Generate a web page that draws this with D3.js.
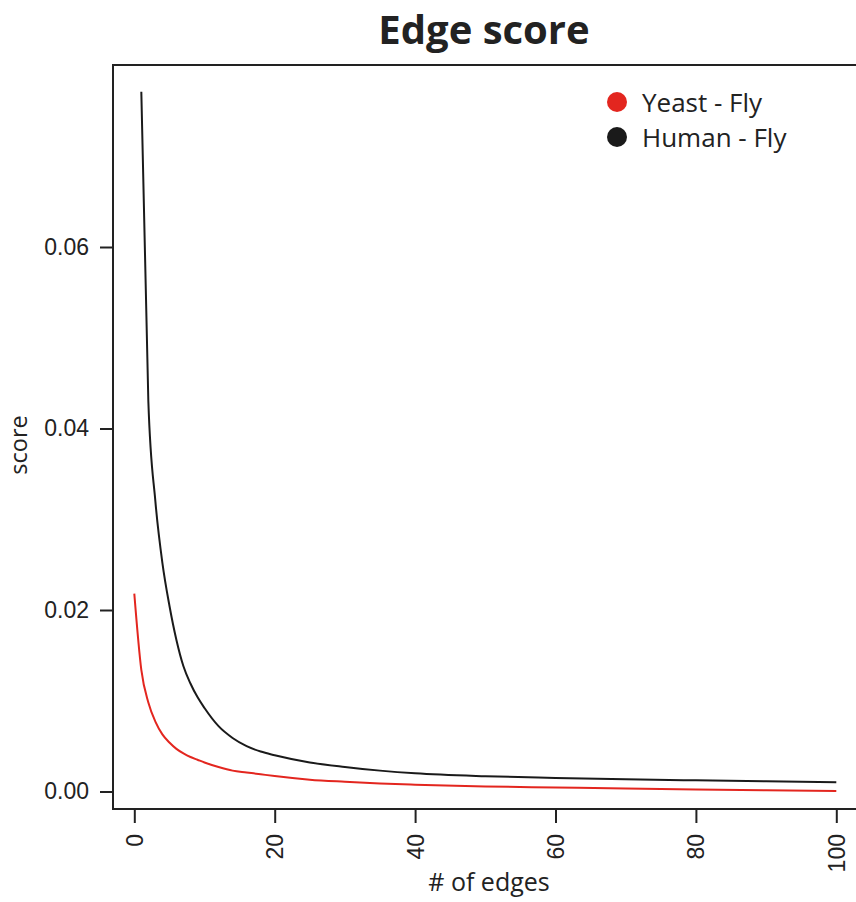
<!DOCTYPE html>
<html>
<head>
<meta charset="utf-8">
<script src="https://cdn.jsdelivr.net/npm/d3@7"></script>
<style>
  body { margin: 0; background: #fff; }
  .axis text { font-family: "Liberation Sans", Arial, sans-serif; font-size: 23px; fill: #222; }
  .axis line { stroke: #222; stroke-width: 2; }
  .label { font-family: "Open Sans", sans-serif; fill: #222; }
</style>
</head>
<body>
<svg id="chart"></svg>
<script>
// number of edges and scores
let edgesHuman = [1, 2, 3, 4, 5, 6, 7, 8, 9, 10, 12, 14, 16, 18, 20, 25, 30, 35, 40, 50, 60, 70, 80, 90, 100];
let scoreHuman = [0.0771, 0.043, 0.032, 0.0252, 0.0205, 0.0167, 0.0138, 0.0119, 0.0104, 0.0092, 0.0072, 0.0059, 0.0050, 0.0044, 0.0040,
  0.0032, 0.0027, 0.0023, 0.0020, 0.00168, 0.00150, 0.00135, 0.00123, 0.00112, 0.00102];

let edgesYeast = [0, 1, 2, 3, 4, 5, 6, 7, 8, 9, 10, 12, 14, 16, 18, 20, 25, 30, 35, 40, 50, 60, 70, 80, 90, 100];
let scoreYeast = [0.0218, 0.0134, 0.0098, 0.0077, 0.0063, 0.0054, 0.0047, 0.0042, 0.0038, 0.0035, 0.0032, 0.0027, 0.0023, 0.0021, 0.0019,
  0.0017, 0.0013, 0.00107, 0.00088, 0.00075, 0.00056, 0.00044, 0.00032, 0.00022, 0.00013, 0.00005];

let xTicks = [0, 20, 40, 60, 80, 100];
let yTicks = [0, 0.02, 0.04, 0.06];
let seriesNames = ['Yeast - Fly', 'Human - Fly'];
let seriesColors = ['#e3261f', '#1a1a1a'];

function makeChart() {
  let w = 856;
  let h = 902;

  let svg = d3.select('#chart')
    .attr('width', w)
    .attr('height', h);

  let xScale = d3.scaleLinear()
    .domain([0, 100])
    .range([134.3, 836.3]);

  let yScale = d3.scaleLinear()
    .domain([0, 0.06])
    .range([791.5, 247]);

  // frame (right side runs off the page in the original)
  svg.append('rect')
    .attr('x', 113)
    .attr('y', 65)
    .attr('width', 760)
    .attr('height', 744)
    .attr('fill', 'none')
    .attr('stroke', '#222')
    .attr('stroke-width', 2);

  let line = d3.line()
    .x((d) => xScale(d[0]))
    .y((d) => yScale(d[1]))
    .curve(d3.curveMonotoneX);

  let yeast = edgesYeast.map((e, i) => [e, scoreYeast[i]]);
  let human = edgesHuman.map((e, i) => [e, scoreHuman[i]]);

  svg.append('path')
    .datum(yeast)
    .attr('d', line)
    .attr('fill', 'none')
    .attr('stroke', seriesColors[0])
    .attr('stroke-width', 2);

  svg.append('path')
    .datum(human)
    .attr('d', line)
    .attr('fill', 'none')
    .attr('stroke', seriesColors[1])
    .attr('stroke-width', 2);

  // AXES
  let xAxis = svg.append('g')
    .attr('class', 'axis')
    .attr('transform', 'translate(0, 809)')
    .call(d3.axisBottom(xScale).tickValues(xTicks).tickSize(14).tickFormat(d3.format('d')));
  xAxis.select('.domain').remove();
  xAxis.selectAll('text')
    .attr('transform', 'rotate(-90)')
    .attr('text-anchor', 'end')
    .attr('x', -25)
    .attr('y', 0)
    .attr('dy', '0.35em');

  let yAxis = svg.append('g')
    .attr('class', 'axis')
    .attr('transform', 'translate(113, 0)')
    .call(d3.axisLeft(yScale).tickValues(yTicks).tickSize(13).tickFormat(d3.format('.2f')));
  yAxis.select('.domain').remove();
  yAxis.selectAll('text').attr('x', -24);

  // labels
  svg.append('text')
    .attr('class', 'label')
    .attr('x', 484)
    .attr('y', 44)
    .attr('text-anchor', 'middle')
    .attr('font-size', 40)
    .attr('font-weight', 'bold')
    .attr('fill', '#111')
    .text('Edge score');

  svg.append('text')
    .attr('class', 'label')
    .attr('transform', 'translate(27, 445) rotate(-90)')
    .attr('text-anchor', 'middle')
    .attr('font-size', 23.5)
    .text('score');

  svg.append('text')
    .attr('class', 'label')
    .attr('x', 489)
    .attr('y', 891)
    .attr('text-anchor', 'middle')
    .attr('font-size', 25)
    .text('# of edges');

  // legend
  let legend = svg.append('g')
    .selectAll('g')
    .data(seriesNames)
    .enter()
    .append('g')
    .attr('transform', (d, i) => `translate(617, ${102 + i * 35})`);

  legend.append('circle')
    .attr('r', 10)
    .attr('fill', (d, i) => seriesColors[i]);

  legend.append('text')
    .attr('class', 'label')
    .attr('x', 25)
    .attr('y', 10)
    .attr('font-size', 26)
    .text((d) => d);
}

makeChart();
</script>
</body>
</html>
